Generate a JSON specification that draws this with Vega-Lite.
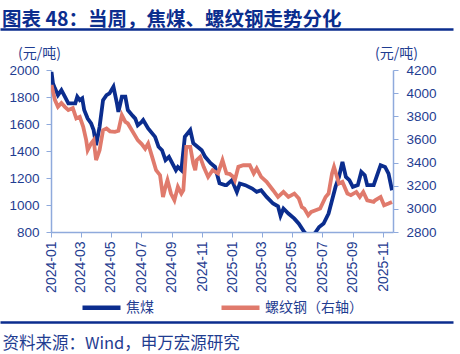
{
  "$schema": "https://vega.github.io/schema/vega-lite/v6.json",
  "autosize": {"type": "none"},
  "width": 342,
  "height": 162,
  "padding": {"left": 51, "top": 70, "right": 67, "bottom": 122},
  "background": "white",
  "title": {"text": "图表 48：当周，焦煤、螺纹钢走势分化", "anchor": "start", "frame": "group", "dx": -49, "dy": 3, "offset": 2, "font": "Noto Sans CJK SC", "fontSize": 19.5, "fontWeight": "bold", "color": "#0B2D8E"},
  "config": {"view": {"stroke": null}, "font": "Liberation Sans"},
  "data": {"values": [
    {"date": "2024-01-02", "series": "焦煤", "price": 1985},
    {"date": "2024-01-05", "series": "焦煤", "price": 1900},
    {"date": "2024-01-09", "series": "焦煤", "price": 1864},
    {"date": "2024-01-15", "series": "焦煤", "price": 1814},
    {"date": "2024-01-22", "series": "焦煤", "price": 1851},
    {"date": "2024-01-29", "series": "焦煤", "price": 1802},
    {"date": "2024-02-05", "series": "焦煤", "price": 1753},
    {"date": "2024-02-19", "series": "焦煤", "price": 1753},
    {"date": "2024-02-23", "series": "焦煤", "price": 1802},
    {"date": "2024-02-28", "series": "焦煤", "price": 1777},
    {"date": "2024-03-04", "series": "焦煤", "price": 1790},
    {"date": "2024-03-08", "series": "焦煤", "price": 1703},
    {"date": "2024-03-15", "series": "焦煤", "price": 1641},
    {"date": "2024-03-22", "series": "焦煤", "price": 1604},
    {"date": "2024-03-27", "series": "焦煤", "price": 1555},
    {"date": "2024-04-01", "series": "焦煤", "price": 1443},
    {"date": "2024-04-08", "series": "焦煤", "price": 1579},
    {"date": "2024-04-15", "series": "焦煤", "price": 1777},
    {"date": "2024-04-22", "series": "焦煤", "price": 1814},
    {"date": "2024-04-28", "series": "焦煤", "price": 1827},
    {"date": "2024-05-06", "series": "焦煤", "price": 1876},
    {"date": "2024-05-13", "series": "焦煤", "price": 1753},
    {"date": "2024-05-16", "series": "焦煤", "price": 1690},
    {"date": "2024-05-23", "series": "焦煤", "price": 1802},
    {"date": "2024-05-30", "series": "焦煤", "price": 1802},
    {"date": "2024-06-04", "series": "焦煤", "price": 1703},
    {"date": "2024-06-14", "series": "焦煤", "price": 1660},
    {"date": "2024-06-19", "series": "焦煤", "price": 1640},
    {"date": "2024-06-24", "series": "焦煤", "price": 1590},
    {"date": "2024-07-02", "series": "焦煤", "price": 1616},
    {"date": "2024-07-05", "series": "焦煤", "price": 1629},
    {"date": "2024-07-15", "series": "焦煤", "price": 1567},
    {"date": "2024-07-29", "series": "焦煤", "price": 1505},
    {"date": "2024-08-05", "series": "焦煤", "price": 1431},
    {"date": "2024-08-12", "series": "焦煤", "price": 1406},
    {"date": "2024-08-19", "series": "焦煤", "price": 1332},
    {"date": "2024-08-26", "series": "焦煤", "price": 1357},
    {"date": "2024-09-09", "series": "焦煤", "price": 1258},
    {"date": "2024-09-13", "series": "焦煤", "price": 1282},
    {"date": "2024-09-20", "series": "焦煤", "price": 1258},
    {"date": "2024-09-27", "series": "焦煤", "price": 1505},
    {"date": "2024-10-08", "series": "焦煤", "price": 1555},
    {"date": "2024-10-14", "series": "焦煤", "price": 1458},
    {"date": "2024-10-31", "series": "焦煤", "price": 1406},
    {"date": "2024-11-07", "series": "焦煤", "price": 1357},
    {"date": "2024-11-18", "series": "焦煤", "price": 1310},
    {"date": "2024-11-27", "series": "焦煤", "price": 1282},
    {"date": "2024-12-06", "series": "焦煤", "price": 1161},
    {"date": "2024-12-17", "series": "焦煤", "price": 1147},
    {"date": "2024-12-20", "series": "焦煤", "price": 1147},
    {"date": "2024-12-31", "series": "焦煤", "price": 1184},
    {"date": "2025-01-10", "series": "焦煤", "price": 1097},
    {"date": "2025-01-16", "series": "焦煤", "price": 1159},
    {"date": "2025-01-27", "series": "焦煤", "price": 1147},
    {"date": "2025-02-10", "series": "焦煤", "price": 1122},
    {"date": "2025-02-19", "series": "焦煤", "price": 1097},
    {"date": "2025-02-28", "series": "焦煤", "price": 1109},
    {"date": "2025-03-11", "series": "焦煤", "price": 1060},
    {"date": "2025-03-24", "series": "焦煤", "price": 1011},
    {"date": "2025-04-03", "series": "焦煤", "price": 990},
    {"date": "2025-04-08", "series": "焦煤", "price": 920},
    {"date": "2025-04-14", "series": "焦煤", "price": 974},
    {"date": "2025-04-24", "series": "焦煤", "price": 937},
    {"date": "2025-05-06", "series": "焦煤", "price": 899},
    {"date": "2025-05-15", "series": "焦煤", "price": 862},
    {"date": "2025-05-26", "series": "焦煤", "price": 800},
    {"date": "2025-06-05", "series": "焦煤", "price": 760},
    {"date": "2025-06-12", "series": "焦煤", "price": 770},
    {"date": "2025-06-18", "series": "焦煤", "price": 800},
    {"date": "2025-06-25", "series": "焦煤", "price": 837},
    {"date": "2025-07-04", "series": "焦煤", "price": 862},
    {"date": "2025-07-14", "series": "焦煤", "price": 937},
    {"date": "2025-07-21", "series": "焦煤", "price": 1035},
    {"date": "2025-07-28", "series": "焦煤", "price": 1134},
    {"date": "2025-08-04", "series": "焦煤", "price": 1208},
    {"date": "2025-08-11", "series": "焦煤", "price": 1319},
    {"date": "2025-08-18", "series": "焦煤", "price": 1208},
    {"date": "2025-08-25", "series": "焦煤", "price": 1184},
    {"date": "2025-09-01", "series": "焦煤", "price": 1134},
    {"date": "2025-09-11", "series": "焦煤", "price": 1147},
    {"date": "2025-09-18", "series": "焦煤", "price": 1245},
    {"date": "2025-09-25", "series": "焦煤", "price": 1221},
    {"date": "2025-09-30", "series": "焦煤", "price": 1147},
    {"date": "2025-10-13", "series": "焦煤", "price": 1147},
    {"date": "2025-10-20", "series": "焦煤", "price": 1221},
    {"date": "2025-10-27", "series": "焦煤", "price": 1295},
    {"date": "2025-11-05", "series": "焦煤", "price": 1282},
    {"date": "2025-11-12", "series": "焦煤", "price": 1233},
    {"date": "2025-11-19", "series": "焦煤", "price": 1109},
    {"date": "2024-01-02", "series": "螺纹钢", "price": 4070},
    {"date": "2024-01-09", "series": "螺纹钢", "price": 3940},
    {"date": "2024-01-15", "series": "螺纹钢", "price": 3882},
    {"date": "2024-01-22", "series": "螺纹钢", "price": 3915},
    {"date": "2024-01-29", "series": "螺纹钢", "price": 3882},
    {"date": "2024-02-05", "series": "螺纹钢", "price": 3854},
    {"date": "2024-02-14", "series": "螺纹钢", "price": 3871},
    {"date": "2024-02-21", "series": "螺纹钢", "price": 3782},
    {"date": "2024-02-28", "series": "螺纹钢", "price": 3796},
    {"date": "2024-03-06", "series": "螺纹钢", "price": 3709},
    {"date": "2024-03-12", "series": "螺纹钢", "price": 3594},
    {"date": "2024-03-15", "series": "螺纹钢", "price": 3507},
    {"date": "2024-03-22", "series": "螺纹钢", "price": 3565},
    {"date": "2024-03-27", "series": "螺纹钢", "price": 3594},
    {"date": "2024-04-01", "series": "螺纹钢", "price": 3421},
    {"date": "2024-04-08", "series": "螺纹钢", "price": 3507},
    {"date": "2024-04-15", "series": "螺纹钢", "price": 3680},
    {"date": "2024-04-22", "series": "螺纹钢", "price": 3695},
    {"date": "2024-04-29", "series": "螺纹钢", "price": 3670},
    {"date": "2024-05-09", "series": "螺纹钢", "price": 3666},
    {"date": "2024-05-16", "series": "螺纹钢", "price": 3675},
    {"date": "2024-05-23", "series": "螺纹钢", "price": 3810},
    {"date": "2024-05-30", "series": "螺纹钢", "price": 3752},
    {"date": "2024-06-04", "series": "螺纹钢", "price": 3738},
    {"date": "2024-06-14", "series": "螺纹钢", "price": 3666},
    {"date": "2024-06-24", "series": "螺纹钢", "price": 3594},
    {"date": "2024-07-02", "series": "螺纹钢", "price": 3560},
    {"date": "2024-07-09", "series": "螺纹钢", "price": 3520},
    {"date": "2024-07-15", "series": "螺纹钢", "price": 3565},
    {"date": "2024-07-25", "series": "螺纹钢", "price": 3421},
    {"date": "2024-07-31", "series": "螺纹钢", "price": 3334},
    {"date": "2024-08-08", "series": "螺纹钢", "price": 3291},
    {"date": "2024-08-14", "series": "螺纹钢", "price": 3103},
    {"date": "2024-08-19", "series": "螺纹钢", "price": 3190},
    {"date": "2024-08-23", "series": "螺纹钢", "price": 3248},
    {"date": "2024-08-30", "series": "螺纹钢", "price": 3132},
    {"date": "2024-09-06", "series": "螺纹钢", "price": 3074},
    {"date": "2024-09-13", "series": "螺纹钢", "price": 3190},
    {"date": "2024-09-20", "series": "螺纹钢", "price": 3132},
    {"date": "2024-09-24", "series": "螺纹钢", "price": 3161},
    {"date": "2024-09-30", "series": "螺纹钢", "price": 3536},
    {"date": "2024-10-08", "series": "螺纹钢", "price": 3536},
    {"date": "2024-10-14", "series": "螺纹钢", "price": 3392},
    {"date": "2024-10-18", "series": "螺纹钢", "price": 3334},
    {"date": "2024-10-21", "series": "螺纹钢", "price": 3421},
    {"date": "2024-10-28", "series": "螺纹钢", "price": 3449},
    {"date": "2024-11-04", "series": "螺纹钢", "price": 3363},
    {"date": "2024-11-13", "series": "螺纹钢", "price": 3276},
    {"date": "2024-11-22", "series": "螺纹钢", "price": 3334},
    {"date": "2024-12-03", "series": "螺纹钢", "price": 3306},
    {"date": "2024-12-12", "series": "螺纹钢", "price": 3421},
    {"date": "2024-12-20", "series": "螺纹钢", "price": 3306},
    {"date": "2024-12-27", "series": "螺纹钢", "price": 3300},
    {"date": "2025-01-03", "series": "螺纹钢", "price": 3276},
    {"date": "2025-01-06", "series": "螺纹钢", "price": 3248},
    {"date": "2025-01-13", "series": "螺纹钢", "price": 3363},
    {"date": "2025-01-23", "series": "螺纹钢", "price": 3377},
    {"date": "2025-02-05", "series": "螺纹钢", "price": 3377},
    {"date": "2025-02-13", "series": "螺纹钢", "price": 3306},
    {"date": "2025-02-19", "series": "螺纹钢", "price": 3349},
    {"date": "2025-02-28", "series": "螺纹钢", "price": 3276},
    {"date": "2025-03-11", "series": "螺纹钢", "price": 3233},
    {"date": "2025-03-24", "series": "螺纹钢", "price": 3161},
    {"date": "2025-04-03", "series": "螺纹钢", "price": 3103},
    {"date": "2025-04-14", "series": "螺纹钢", "price": 3146},
    {"date": "2025-04-24", "series": "螺纹钢", "price": 3103},
    {"date": "2025-05-06", "series": "螺纹钢", "price": 3132},
    {"date": "2025-05-15", "series": "螺纹钢", "price": 3089},
    {"date": "2025-05-21", "series": "螺纹钢", "price": 3016},
    {"date": "2025-05-26", "series": "螺纹钢", "price": 3003},
    {"date": "2025-06-03", "series": "螺纹钢", "price": 2945},
    {"date": "2025-06-09", "series": "螺纹钢", "price": 2973},
    {"date": "2025-06-18", "series": "螺纹钢", "price": 2988},
    {"date": "2025-06-27", "series": "螺纹钢", "price": 3003},
    {"date": "2025-07-08", "series": "螺纹钢", "price": 3103},
    {"date": "2025-07-14", "series": "螺纹钢", "price": 3132},
    {"date": "2025-07-21", "series": "螺纹钢", "price": 3306},
    {"date": "2025-07-25", "series": "螺纹钢", "price": 3363},
    {"date": "2025-08-04", "series": "螺纹钢", "price": 3219},
    {"date": "2025-08-11", "series": "螺纹钢", "price": 3233},
    {"date": "2025-08-21", "series": "螺纹钢", "price": 3132},
    {"date": "2025-08-28", "series": "螺纹钢", "price": 3118},
    {"date": "2025-09-08", "series": "螺纹钢", "price": 3146},
    {"date": "2025-09-15", "series": "螺纹钢", "price": 3103},
    {"date": "2025-09-22", "series": "螺纹钢", "price": 3146},
    {"date": "2025-09-30", "series": "螺纹钢", "price": 3074},
    {"date": "2025-10-13", "series": "螺纹钢", "price": 3060},
    {"date": "2025-10-16", "series": "螺纹钢", "price": 3074},
    {"date": "2025-10-27", "series": "螺纹钢", "price": 3103},
    {"date": "2025-11-03", "series": "螺纹钢", "price": 3031},
    {"date": "2025-11-12", "series": "螺纹钢", "price": 3046},
    {"date": "2025-11-19", "series": "螺纹钢", "price": 3060}
  ]},
  "layer": [
    {
      "transform": [{"filter": {"field": "series", "equal": "焦煤"}}],
      "mark": {"type": "line", "strokeWidth": 3.8, "clip": true},
      "encoding": {
        "x": {"field": "date", "type": "temporal",
          "scale": {"domain": ["2024-01-01", "2025-11-21"]},
          "axis": {"title": null, "format": "%Y-%m", "tickCount": {"interval": "month", "step": 2}, "labelAngle": -90, "labelFont": "Liberation Sans", "labelFontSize": 14, "labelColor": "#1F3D91", "labelPadding": 4, "labelOverlap": false, "labelFlush": false, "tickSize": 5, "tickColor": "#8FAADC", "domainColor": "#8FAADC", "domainWidth": 1.5, "grid": false}},
        "y": {"field": "price", "type": "quantitative",
          "scale": {"domain": [800, 2000], "nice": false, "zero": false},
          "axis": {"values": [800, 1000, 1200, 1400, 1600, 1800, 2000], "format": "d", "title": "(元/吨)", "titleAngle": 0, "titleX": -12, "titleY": -13, "titleAlign": "center", "titleBaseline": "alphabetic", "titleFont": "Noto Sans CJK SC", "titleFontSize": 14, "titleFontWeight": "normal", "titleColor": "#1F3D91", "labelFont": "Liberation Sans", "labelFontSize": 13.5, "labelColor": "#1F3D91", "labelPadding": 7, "tickSize": 5, "tickColor": "#8FAADC", "domainColor": "#8FAADC", "domainWidth": 1.5, "grid": false}},
        "color": {"field": "series", "type": "nominal",
          "scale": {"domain": ["焦煤", "螺纹钢"], "range": ["#0B2D8E", "#E07A6C"]},
          "legend": {"orient": "none", "legendX": 29, "legendY": 216, "direction": "horizontal", "columns": 2, "columnPadding": 58, "symbolType": "stroke", "symbolStrokeWidth": 4.5, "symbolSize": 1444, "labelFont": "Noto Sans CJK SC", "labelFontSize": 14, "labelColor": "#1F3D91", "labelOffset": 3, "title": null, "padding": 0, "labelExpr": "datum.label === '螺纹钢' ? '螺纹钢（右轴）' : datum.label"}}
      }
    },
    {
      "transform": [{"filter": {"field": "series", "equal": "螺纹钢"}}],
      "mark": {"type": "line", "strokeWidth": 3.8, "clip": true},
      "encoding": {
        "x": {"field": "date", "type": "temporal", "scale": {"domain": ["2024-01-01", "2025-11-21"]}, "axis": null},
        "y": {"field": "price", "type": "quantitative",
          "scale": {"domain": [2800, 4200], "nice": false, "zero": false},
          "axis": {"orient": "right", "values": [2800, 3000, 3200, 3400, 3600, 3800, 4000, 4200], "format": "d", "title": "(元/吨)", "titleAngle": 0, "titleX": 3, "titleY": -13, "titleAlign": "center", "titleBaseline": "alphabetic", "titleFont": "Noto Sans CJK SC", "titleFontSize": 14, "titleFontWeight": "normal", "titleColor": "#1F3D91", "labelFont": "Liberation Sans", "labelFontSize": 13.5, "labelColor": "#1F3D91", "labelPadding": 8, "tickSize": 5, "tickColor": "#8FAADC", "domainColor": "#8FAADC", "domainWidth": 1.5, "grid": false}},
        "color": {"field": "series", "type": "nominal"}
      }
    },
    {
      "transform": [{"filter": {"field": "series", "equal": "焦煤"}}],
      "mark": {"type": "rule", "strokeOpacity": 0},
      "encoding": {
        "x": {"field": "date", "type": "temporal", "scale": {"domain": ["2024-01-01", "2025-11-21"], "range": [-51, 402]},
          "axis": {"orient": "top", "offset": 41, "labels": false, "ticks": false, "domain": true, "domainOpacity": 1, "domainColor": "#0B2D8E", "domainWidth": 2.5, "grid": false, "title": null}}
      }
    },
    {
      "transform": [{"filter": {"field": "series", "equal": "焦煤"}}],
      "mark": {"type": "rule", "strokeOpacity": 0},
      "encoding": {
        "x": {"field": "date", "type": "temporal", "scale": {"domain": ["2024-01-01", "2025-11-21"], "range": [-51, 402]},
          "axis": {"orient": "bottom", "offset": 90, "labels": false, "ticks": false, "domain": true, "domainOpacity": 1, "domainColor": "#0B2D8E", "domainWidth": 2.5, "grid": false, "title": "资料来源：Wind，申万宏源研究", "titleX": -49, "titleY": 26, "titleAlign": "left", "titleAnchor": null, "titleBaseline": "alphabetic", "titleFont": "Noto Sans CJK SC", "titleFontSize": 16.5, "titleFontWeight": "normal", "titleColor": "#1F3D91"}}
      }
    }
  ],
  "resolve": {"scale": {"x": "independent", "y": "independent"}}
}
